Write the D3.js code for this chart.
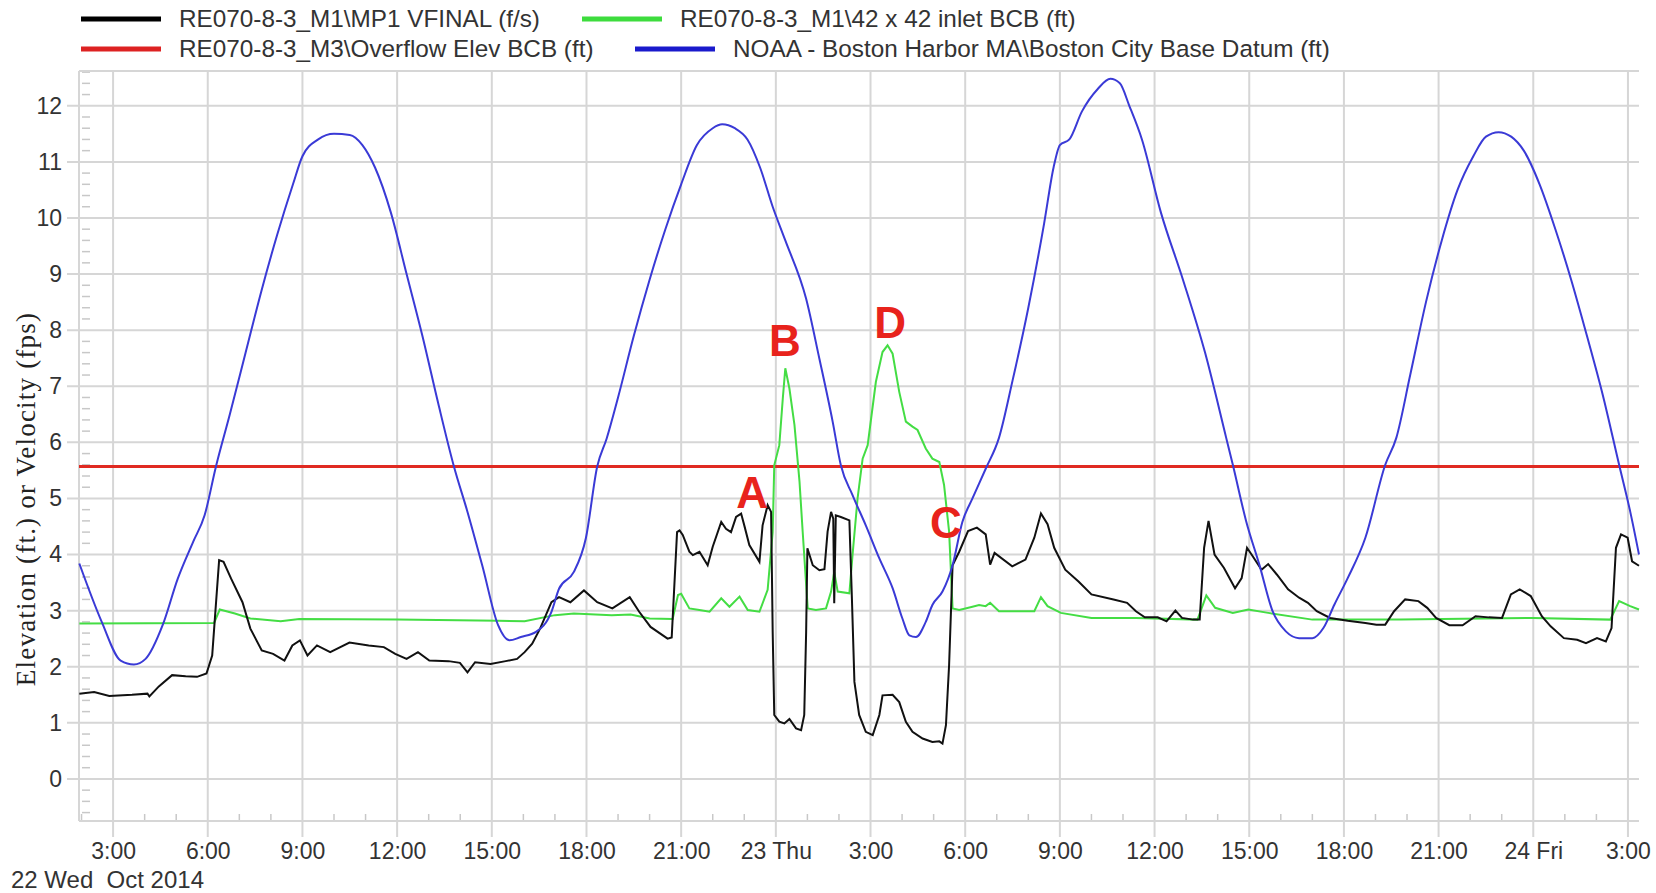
<!DOCTYPE html>
<meta charset="utf-8">
<style>
  body { margin: 0; background: #fff; }
  text { font-family: "Liberation Sans", Arial, sans-serif; }
</style>
<svg width="1656" height="893"></svg>
<script src="https://d3js.org/d3.v7.min.js"></script>
<script>
// hours after 22 Oct 2014 00:00, value
var velocity = [
  [1.93,1.52],[2.4,1.55],[2.88,1.48],[3.6,1.5],[4.09,1.52],[4.15,1.47],[4.45,1.65],[4.87,1.85],
  [5.3,1.83],[5.66,1.82],[5.96,1.88],[6.14,2.2],[6.36,3.9],[6.5,3.87],[6.74,3.57],[7.1,3.15],
  [7.35,2.68],[7.71,2.29],[8.07,2.23],[8.43,2.11],[8.68,2.38],[8.92,2.47],[9.16,2.2],[9.46,2.38],
  [9.88,2.26],[10.49,2.43],[11.1,2.38],[11.58,2.35],[11.94,2.23],[12.3,2.14],[12.66,2.26],[13.02,2.11],
  [13.63,2.1],[13.99,2.07],[14.23,1.9],[14.47,2.08],[14.96,2.05],[15.44,2.1],[15.8,2.14],[16.04,2.26],
  [16.28,2.41],[16.53,2.68],[16.89,3.15],[17.13,3.24],[17.49,3.15],[17.92,3.36],[18.34,3.15],[18.82,3.04],
  [19.37,3.24],[19.67,2.98],[20.03,2.71],[20.57,2.5],[20.7,2.52],[20.87,4.4],[20.95,4.43],[21.05,4.35],
  [21.26,4.05],[21.37,3.99],[21.58,4.05],[21.84,3.81],[22.0,4.14],[22.27,4.58],[22.42,4.46],[22.58,4.4],
  [22.74,4.67],[22.9,4.73],[23.0,4.52],[23.16,4.17],[23.48,3.87],[23.58,4.52],[23.74,4.88],[23.85,4.76],
  [23.9,2.62],[23.95,1.14],[24.11,1.02],[24.27,0.99],[24.43,1.07],[24.64,0.9],[24.8,0.87],[24.9,1.14],
  [24.96,2.62],[25.0,4.11],[25.17,3.81],[25.38,3.72],[25.54,3.74],[25.64,4.41],[25.75,4.76],[25.82,4.64],
  [25.85,3.13],[25.9,4.7],[26.06,4.67],[26.33,4.61],[26.41,3.22],[26.49,1.73],[26.64,1.14],[26.85,0.84],
  [27.07,0.78],[27.28,1.14],[27.38,1.49],[27.7,1.5],[27.91,1.37],[28.12,1.02],[28.33,0.84],[28.65,0.72],
  [28.96,0.66],[29.18,0.67],[29.28,0.63],[29.39,0.96],[29.49,2.03],[29.6,3.81],[29.81,4.05],[30.09,4.42],
  [30.37,4.48],[30.65,4.36],[30.79,3.82],[30.93,4.03],[31.49,3.79],[31.91,3.91],[32.19,4.3],[32.4,4.73],
  [32.61,4.54],[32.82,4.12],[33.17,3.73],[33.59,3.52],[34.0,3.29],[34.7,3.2],[35.13,3.14],[35.41,2.99],
  [35.69,2.88],[36.1,2.88],[36.38,2.81],[36.66,3.0],[36.87,2.87],[37.22,2.84],[37.43,2.84],[37.57,4.12],
  [37.71,4.6],[37.9,4.0],[38.2,3.76],[38.55,3.4],[38.76,3.58],[38.93,4.12],[39.11,3.97],[39.39,3.73],
  [39.6,3.83],[39.88,3.64],[40.23,3.38],[40.58,3.23],[40.86,3.14],[41.14,2.99],[41.56,2.87],[42.12,2.82],
  [42.68,2.78],[43.03,2.75],[43.31,2.75],[43.59,2.99],[43.94,3.2],[44.36,3.17],[44.64,3.05],[44.92,2.87],
  [45.34,2.74],[45.76,2.74],[46.17,2.9],[46.59,2.88],[47.01,2.87],[47.29,3.29],[47.57,3.38],[47.92,3.26],
  [48.27,2.9],[48.55,2.72],[48.97,2.51],[49.39,2.48],[49.67,2.42],[50.02,2.51],[50.3,2.45],[50.48,2.69],
  [50.62,4.12],[50.78,4.36],[50.99,4.3],[51.13,3.88],[51.35,3.8]
]

var inlet = [
  [1.93,2.77],[6.2,2.78],[6.38,3.02],[6.86,2.95],[7.35,2.86],[8.31,2.81],[8.9,2.85],[12,2.84],
  [15.2,2.82],[16.04,2.81],[17.0,2.92],[17.6,2.95],[18.8,2.92],[19.4,2.93],[20.0,2.86],[20.73,2.85],
  [20.9,3.28],[21.0,3.3],[21.26,3.04],[21.58,3.01],[21.9,2.98],[22.27,3.22],[22.53,3.07],[22.85,3.25],
  [23.11,3.01],[23.48,2.98],[23.74,3.37],[23.9,4.4],[23.95,5.59],[24.11,5.95],[24.22,6.78],[24.3,7.32],
  [24.43,6.96],[24.59,6.31],[24.75,5.3],[24.85,4.41],[25.01,3.04],[25.27,3.01],[25.59,3.04],[25.75,3.34],
  [25.85,3.69],[25.96,3.34],[26.33,3.31],[26.43,3.99],[26.59,5.0],[26.75,5.71],[26.91,5.95],[27.17,7.08],
  [27.38,7.61],[27.54,7.73],[27.7,7.58],[27.91,6.9],[28.12,6.37],[28.33,6.28],[28.49,6.22],[28.75,5.89],
  [28.96,5.71],[29.18,5.65],[29.33,5.24],[29.49,4.41],[29.6,3.04],[29.81,3.01],[30.23,3.07],[30.44,3.1],
  [30.65,3.08],[30.79,3.14],[31.07,2.99],[32.19,2.99],[32.4,3.24],[32.61,3.08],[33.03,2.96],[34.0,2.87],
  [35.41,2.87],[37.36,2.84],[37.64,3.27],[37.92,3.05],[38.48,2.96],[38.97,3.02],[39.6,2.96],[41.0,2.84],
  [43.8,2.84],[48.0,2.87],[50.44,2.84],[50.72,3.17],[51.07,3.08],[51.35,3.02]
]

var overflow = [[1.92,5.57],[51.35,5.57]]

var tide = [
  [1.93,3.84],[2.64,2.8],[3.24,2.11],[3.66,2.04],[4.03,2.14],[4.57,2.74],[5.05,3.57],[5.54,4.23],
  [5.9,4.7],[6.26,5.57],[6.7,6.5],[7.2,7.6],[7.7,8.7],[8.2,9.7],[8.7,10.6],[9.0,11.1],[9.5,11.4],
  [10.0,11.5],[10.5,11.48],[10.9,11.3],[11.3,10.9],[11.8,10.1],[12.3,9.0],[12.8,7.9],[13.3,6.7],
  [13.8,5.57],[14.23,4.76],[14.7,3.8],[15.2,2.74],[15.56,2.47],[15.92,2.53],[16.4,2.62],[16.89,2.98],
  [17.13,3.39],[17.6,3.69],[17.98,4.29],[18.34,5.57],[18.64,6.07],[19.0,6.8],[19.5,7.9],[20.0,8.9],
  [20.5,9.8],[21.0,10.6],[21.5,11.3],[22.0,11.6],[22.3,11.67],[22.7,11.6],[23.1,11.4],[23.5,10.9],
  [23.9,10.2],[24.3,9.6],[24.96,8.56],[25.38,7.49],[25.8,6.37],[26.06,5.59],[26.43,5.06],[26.85,4.52],
  [27.28,3.93],[27.7,3.4],[28.01,2.86],[28.23,2.56],[28.44,2.53],[28.75,2.8],[28.96,3.1],[29.28,3.34],
  [29.6,3.81],[29.91,4.58],[30.23,5.0],[30.65,5.53],[31.07,6.08],[31.5,7.1],[32.0,8.4],[32.5,9.9],
  [32.8,10.9],[33.0,11.3],[33.3,11.4],[33.7,11.9],[34.2,12.3],[34.6,12.48],[34.9,12.4],[35.2,12.0],
  [35.6,11.4],[36.2,10.1],[36.9,8.9],[37.6,7.6],[38.27,6.08],[38.48,5.6],[38.9,4.6],[39.32,3.82],
  [39.74,2.99],[40.16,2.63],[40.58,2.51],[41.0,2.51],[41.35,2.69],[41.7,3.11],[42.12,3.58],[42.68,4.3],
  [43.31,5.6],[43.66,6.08],[44.1,7.2],[44.6,8.5],[45.1,9.6],[45.6,10.5],[46.1,11.1],[46.5,11.45],
  [46.9,11.53],[47.3,11.45],[47.7,11.2],[48.2,10.6],[48.7,9.8],[49.2,8.9],[49.7,7.9],[50.2,6.85],
  [50.72,5.6],[51.07,4.77],[51.35,4.0]
]

var seriesNames = [
  "RE070-8-3_M1\\MP1 VFINAL (f/s)",
  "RE070-8-3_M1\\42 x 42 inlet BCB (ft)",
  "RE070-8-3_M3\\Overflow Elev BCB (ft)",
  "NOAA - Boston Harbor MA\\Boston City Base Datum (ft)"
]
var seriesColors = ["#111111", "#44dd44", "#e02a22", "#3a3ad6"]
var legendColors = ["#000000", "#3ddc3d", "#dd2222", "#1a1acc"]

var notes = [
  { label: "A", h: 23.25, v: 5.12 },
  { label: "B", h: 24.29, v: 7.83 },
  { label: "D", h: 27.62, v: 8.15 },
  { label: "C", h: 29.39, v: 4.58 }
]

var yTicks = d3.range(0, 13)
var hStart = 1.92, hEnd = 51.35

var t0 = new Date(2014, 9, 22)
function toDate(h) { return new Date(+t0 + h * 3600e3) }

var svg = d3.select('svg')
var plotLeft = 79, plotRight = 1639, plotTop = 71, plotBottom = 821

var x = d3.scaleTime().domain([toDate(hStart), toDate(hEnd)]).range([plotLeft, plotRight])
var y = d3.scaleLinear().domain([-0.75, 12.62]).range([plotBottom, plotTop])

var gridColor = '#d6d6d6'

// grid
var grid = svg.append('g')
grid.selectAll('line.h')
  .data(yTicks)
  .enter().append('line')
  .attr('x1', plotLeft - 12).attr('x2', plotRight)
  .attr('y1', function (d) { return y(d) }).attr('y2', function (d) { return y(d) })
  .attr('stroke', gridColor).attr('stroke-width', 2)

var hourTicks = x.ticks(d3.timeHour.every(3))
grid.selectAll('line.v')
  .data(hourTicks)
  .enter().append('line')
  .attr('x1', function (d) { return x(d) }).attr('x2', function (d) { return x(d) })
  .attr('y1', plotTop).attr('y2', plotBottom + 16)
  .attr('stroke', gridColor).attr('stroke-width', 2)

// minor ticks
grid.selectAll('line.my')
  .data(d3.range(-0.6, 12.61, 0.2).filter(function (d) { return Math.abs(d - Math.round(d)) > 0.01 }))
  .enter().append('line')
  .attr('x1', plotLeft + 3).attr('x2', plotLeft + 11)
  .attr('y1', function (d) { return y(d) }).attr('y2', function (d) { return y(d) })
  .attr('stroke', '#c8c8c8').attr('stroke-width', 1.5)

grid.selectAll('line.mx')
  .data(x.ticks(d3.timeHour.every(1)).filter(function (d) { return d.getHours() % 3 !== 0 }))
  .enter().append('line')
  .attr('x1', function (d) { return x(d) }).attr('x2', function (d) { return x(d) })
  .attr('y1', plotBottom).attr('y2', plotBottom - 7)
  .attr('stroke', '#c8c8c8').attr('stroke-width', 1.5)

// plot frame
grid.append('line').attr('x1', plotLeft).attr('x2', plotRight).attr('y1', plotTop).attr('y2', plotTop)
  .attr('stroke', gridColor).attr('stroke-width', 2)
grid.append('line').attr('x1', plotLeft).attr('x2', plotRight).attr('y1', plotBottom).attr('y2', plotBottom)
  .attr('stroke', gridColor).attr('stroke-width', 2)
grid.append('line').attr('x1', plotLeft).attr('x2', plotLeft).attr('y1', plotTop).attr('y2', plotBottom)
  .attr('stroke', gridColor).attr('stroke-width', 2)

// axes labels
function fmt(d) {
  return d.getHours() === 0 ? d3.timeFormat('%-d %a')(d) : d3.timeFormat('%-H:%M')(d)
}
var xAxis = svg.append('g')
  .attr('transform', 'translate(0,' + plotBottom + ')')
  .call(d3.axisBottom(x).ticks(d3.timeHour.every(3)).tickFormat(fmt).tickSize(16).tickPadding(6))
xAxis.select('.domain').remove()
xAxis.selectAll('line').remove()
xAxis.selectAll('text').attr('font-size', 23).attr('fill', '#333').attr('font-family', '"Liberation Sans", Arial, sans-serif')

var yAxis = svg.append('g')
  .attr('transform', 'translate(' + plotLeft + ',0)')
  .call(d3.axisLeft(y).tickValues(yTicks).tickSize(12).tickPadding(5))
yAxis.select('.domain').remove()
yAxis.selectAll('line').remove()
yAxis.selectAll('text').attr('font-size', 23).attr('fill', '#333').attr('font-family', '"Liberation Sans", Arial, sans-serif')

svg.append('text')
  .attr('x', 11).attr('y', 888)
  .attr('font-size', 24).attr('fill', '#333')
  .attr('xml:space', 'preserve')
  .text('22 Wed  Oct 2014')

svg.append('text')
  .attr('transform', 'translate(35,499) rotate(-90)')
  .attr('text-anchor', 'middle')
  .attr('font-size', 27).attr('fill', '#222')
  .attr('letter-spacing', 1.2)
  .style('font-family', '"Liberation Serif", "Times New Roman", serif')
  .text('Elevation (ft.) or Velocity (fps)')

// lines
var line = d3.line()
  .x(function (d) { return x(toDate(d[0])) })
  .y(function (d) { return y(d[1]) })

var smoothLine = d3.line()
  .curve(d3.curveMonotoneX)
  .x(function (d) { return x(toDate(d[0])) })
  .y(function (d) { return y(d[1]) })

var plot = svg.append('g')
plot.append('path').datum(overflow).attr('d', line)
  .attr('fill', 'none').attr('stroke', seriesColors[2]).attr('stroke-width', 3)
plot.append('path').datum(inlet).attr('d', line)
  .attr('fill', 'none').attr('stroke', seriesColors[1]).attr('stroke-width', 2)
plot.append('path').datum(velocity).attr('d', line)
  .attr('fill', 'none').attr('stroke', seriesColors[0]).attr('stroke-width', 2)
plot.append('path').datum(tide).attr('d', smoothLine)
  .attr('fill', 'none').attr('stroke', seriesColors[3]).attr('stroke-width', 2)

// annotations
plot.selectAll('text.note')
  .data(notes)
  .enter().append('text')
  .attr('x', function (d) { return x(toDate(d.h)) })
  .attr('y', function (d) { return y(d.v) })
  .attr('dy', '0.36em')
  .attr('text-anchor', 'middle')
  .attr('font-size', 44).attr('font-weight', 'bold').attr('fill', '#e8231c')
  .text(function (d) { return d.label })

// legend
var legendPos = [[81, 19], [582, 19], [81, 49], [635, 49]]
var legend = svg.append('g')
legend.selectAll('line')
  .data(seriesNames)
  .enter().append('line')
  .attr('x1', function (d, i) { return legendPos[i][0] })
  .attr('x2', function (d, i) { return legendPos[i][0] + 80 })
  .attr('y1', function (d, i) { return legendPos[i][1] })
  .attr('y2', function (d, i) { return legendPos[i][1] })
  .attr('stroke', function (d, i) { return legendColors[i] })
  .attr('stroke-width', 5)
legend.selectAll('text')
  .data(seriesNames)
  .enter().append('text')
  .attr('x', function (d, i) { return legendPos[i][0] + 98 })
  .attr('y', function (d, i) { return legendPos[i][1] - 1 })
  .attr('dy', '0.35em')
  .attr('font-size', 24.3).attr('fill', '#333')
  .text(function (d) { return d })
</script>
